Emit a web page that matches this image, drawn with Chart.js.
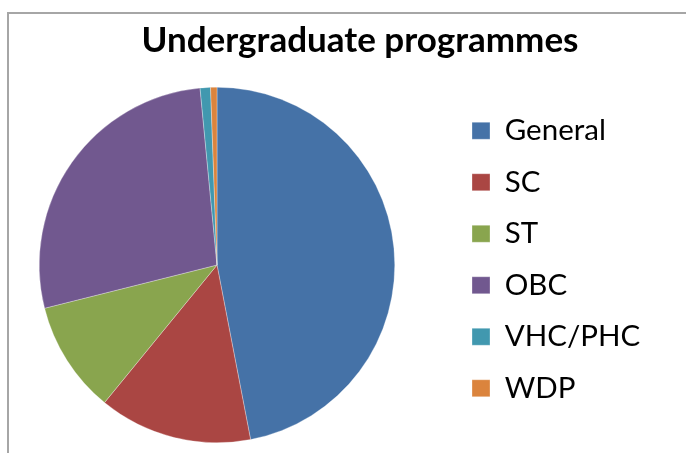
<!DOCTYPE html>
<html>
<head>
<meta charset="utf-8">
<script src="https://cdn.jsdelivr.net/npm/chart.js@4"></script>
<style>
  html, body { margin: 0; padding: 0; background: #fff; }
  .frame { position: absolute; left: 7px; top: 12px; width: 700px; height: 460px;
           border-left: 2px solid #a6a6a6; border-top: 2px solid #a6a6a6; }
  .wrap { position: absolute; left: 0; top: 0; width: 686px; height: 453px; }
</style>
</head>
<body>
<div class="frame"></div>
<div class="wrap"><canvas id="chart" width="686" height="453"></canvas></div>
<script>
// Undergraduate programmes — share by category (%)
const categories = ['General', 'SC', 'ST', 'OBC', 'VHC/PHC', 'WDP'];
const shares = [46.97, 13.93, 10.18, 27.39, 0.94, 0.58];
const colors = ['#4572A7', '#AA4643', '#89A54E', '#71588F', '#4198AF', '#DB843D'];

const FONT = 'Lato, "Open Sans", sans-serif';

// pie sits left, legend floats on the right like the Excel original
const placeBoxes = {
  id: 'placeBoxes',
  afterLayout(chart) {
    const area = chart.chartArea;
    area.right = 400;
    area.width = area.right - area.left;

    const lg = chart.legend;
    const dx = 450 - lg.left;
    lg.left += dx;
    lg.right += dx;
    lg.top += 38;
    lg.bottom += 38;
  }
};

new Chart(document.getElementById('chart'), {
  type: 'pie',
  data: {
    labels: categories,
    datasets: [{
      data: shares,
      backgroundColor: colors,
      borderColor: 'rgba(255,255,255,.6)',
      borderWidth: 0.5,
    }]
  },
  options: {
    responsive: false,
    animation: false,
    layout: { padding: { left: 34, right: 0, top: 0, bottom: 10 } },
    plugins: {
      title: {
        display: true,
        text: 'Undergraduate programmes',
        color: '#000',
        font: { family: FONT, size: 35, weight: 'bold' },
        padding: { top: 20, bottom: 25 }
      },
      legend: {
        position: 'right',
        labels: {
          color: '#000',
          font: { family: FONT, size: 29.5 },
          boxWidth: 18,
          boxHeight: 17,
          padding: 22,
        }
      },
      tooltip: { enabled: false }
    }
  },
  plugins: [placeBoxes]
});
</script>
</body>
</html>
